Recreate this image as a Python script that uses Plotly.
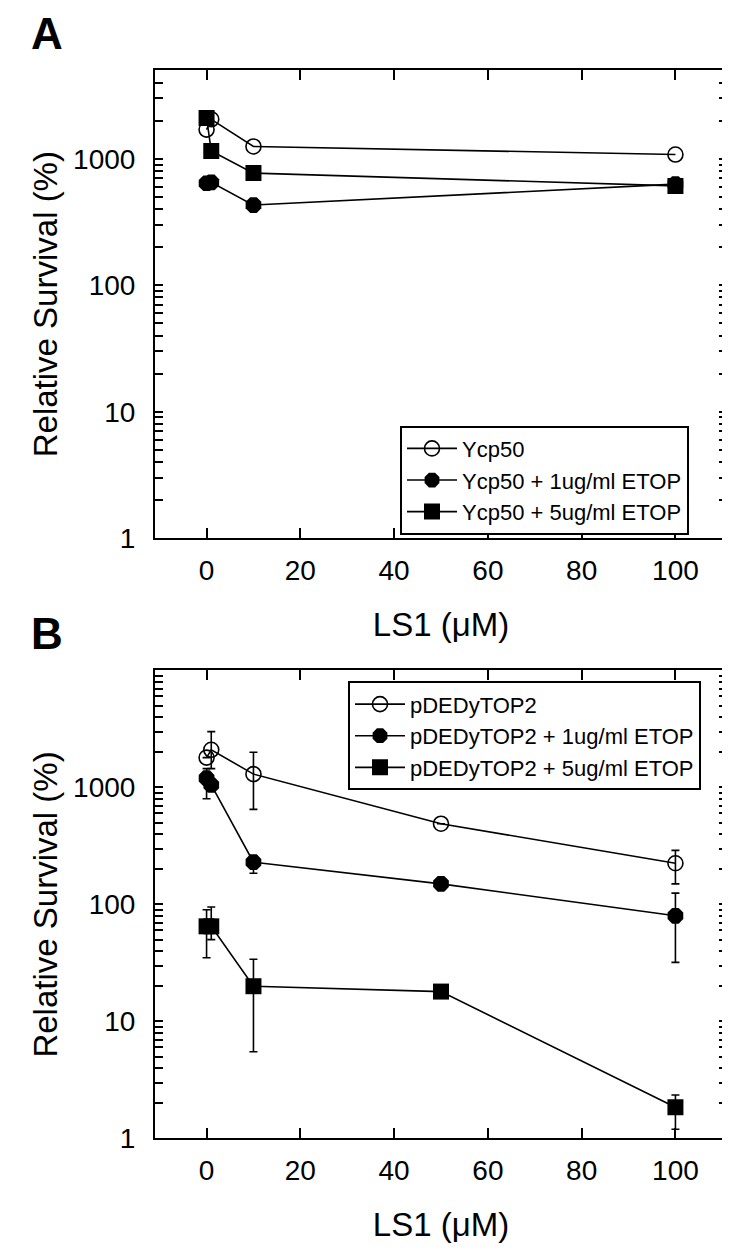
import plotly.graph_objects as go

# ---------------- data ----------------
ls1_a = [0, 1, 10, 100]
ycp50 = [1700, 2050, 1250, 1080]
ycp50_etop1 = [640, 650, 430, 630]
ycp50_etop5 = [2100, 1150, 770, 610]

ls1_b = [0, 1, 10, 50, 100]
top2 = [1800, 2100, 1300, 490, 225]
top2_err_plus = [0, 900, 700, 0, 65]
top2_err_minus = [0, 650, 650, 0, 75]

top2_etop1 = [1200, 1050, 230, 150, 80]
top2_etop1_err_plus = [250, 0, 30, 0, 45]
top2_etop1_err_minus = [400, 0, 45, 0, 48]

top2_etop5 = [65, 65, 20, 18, 1.85]
top2_etop5_err_plus = [25, 30, 14, 0, 0.5]
top2_etop5_err_minus = [30, 15, 14.5, 0, 0.65]

names_a = ["Ycp50", "Ycp50 + 1ug/ml ETOP", "Ycp50 + 5ug/ml ETOP"]
names_b = ["pDEDyTOP2", "pDEDyTOP2 + 1ug/ml ETOP", "pDEDyTOP2 + 5ug/ml ETOP"]

x_ticks = [0, 20, 40, 60, 80, 100]
y_decades = [1, 10, 100, 1000]
y_decade_text = ["1", "10", "100", "1000"]
y_minor_digits = [2, 3, 4, 5, 6, 7, 8, 9]

x_title = "LS1 (μM)"
y_title = "Relative Survival (%)"
panel_labels = ["A", "B"]

FONT = "Liberation Sans, Arial, sans-serif"
W, H = 730, 1258

# log-axis tick positions (decades labelled, in-between digits unlabelled)
tick_vals, tick_text = [], []
for d, t in zip(y_decades, y_decade_text):
    tick_vals.append(d)
    tick_text.append(t)
    for m in y_minor_digits:
        tick_vals.append(d * m)
        tick_text.append("")

fig = go.Figure()

symbols = [
    dict(symbol="circle-open", size=15, line=dict(width=1.6, color="black"), color="black"),
    dict(symbol="octagon", size=17, color="black", line=dict(width=0)),
    dict(symbol="square", size=16, color="black", line=dict(width=0)),
]

for name, yv, sym in zip(names_a, [ycp50, ycp50_etop1, ycp50_etop5], symbols):
    fig.add_trace(go.Scatter(
        x=ls1_a, y=yv, name=name, mode="lines+markers",
        line=dict(color="black", width=1.6), marker=sym,
        xaxis="x", yaxis="y", legend="legend",
    ))

series_b = [
    (top2, top2_err_plus, top2_err_minus),
    (top2_etop1, top2_etop1_err_plus, top2_etop1_err_minus),
    (top2_etop5, top2_etop5_err_plus, top2_etop5_err_minus),
]
for name, (yv, ep, em), sym in zip(names_b, series_b, symbols):
    fig.add_trace(go.Scatter(
        x=ls1_b, y=yv, name=name, mode="lines+markers",
        line=dict(color="black", width=1.6), marker=sym,
        error_y=dict(type="data", array=ep, arrayminus=em, symmetric=False,
                     color="black", thickness=1.6, width=4),
        xaxis="x2", yaxis="y2", legend="legend2",
    ))

xdom = [147 / W, 719 / W]
ydom_a = [1 - 537 / H, 1 - 63 / H]
ydom_b = [1 - 1145 / H, 1 - 671 / H]

xcommon = dict(
    range=[-11, 111], tickvals=x_ticks, ticks="inside", ticklen=10, tickwidth=1.5,
    tickcolor="black", showline=True, linecolor="black", linewidth=2, mirror="allticks",
    showgrid=False, zeroline=False, tickfont=dict(size=28, color="black", family=FONT),
    ticklabelstandoff=6,
    title=dict(text=x_title, font=dict(size=33, color="black", family=FONT), standoff=28),
    domain=xdom,
)
ycommon = dict(
    type="log", tickvals=tick_vals, ticktext=tick_text, ticks="inside", ticklen=8,
    tickwidth=1.5, tickcolor="black", showline=True, linecolor="black", linewidth=2,
    mirror="allticks", showgrid=False, zeroline=False,
    tickfont=dict(size=28, color="black", family=FONT), ticklabelstandoff=12,
    title=dict(text=y_title, font=dict(size=33, color="black", family=FONT), standoff=6),
)

legend_common = dict(
    xanchor="left", yanchor="top", bordercolor="black", borderwidth=2, bgcolor="white",
    font=dict(size=22, color="black", family=FONT), tracegroupgap=0, itemwidth=50,
)

fig.update_layout(
    width=W, height=H, margin=dict(l=0, r=0, t=0, b=0),
    paper_bgcolor="white", plot_bgcolor="white",
    font=dict(family=FONT, color="black"),
    xaxis=dict(**xcommon, anchor="y"),
    yaxis=dict(**ycommon, range=[0, 3.7], domain=ydom_a, anchor="x"),
    xaxis2=dict(**xcommon, anchor="y2"),
    yaxis2=dict(**ycommon, range=[0, 4.0], domain=ydom_b, anchor="x2"),
    legend=dict(x=392 / W, y=1 - 423 / H, **legend_common),
    legend2=dict(x=340 / W, y=1 - 682 / H, **legend_common),
    showlegend=True,
)

fig.add_annotation(text=f"<b>{panel_labels[0]}</b>", xref="paper", yref="paper",
                   x=22 / W, y=1, xanchor="left", yanchor="top", borderpad=0,
                   showarrow=False, font=dict(size=44, color="black", family=FONT))
fig.add_annotation(text=f"<b>{panel_labels[1]}</b>", xref="paper", yref="paper",
                   x=22 / W, y=1 - 634 / H, xanchor="left", yanchor="middle", borderpad=0,
                   showarrow=False, font=dict(size=44, color="black", family=FONT))

fig.write_html("out.html")
